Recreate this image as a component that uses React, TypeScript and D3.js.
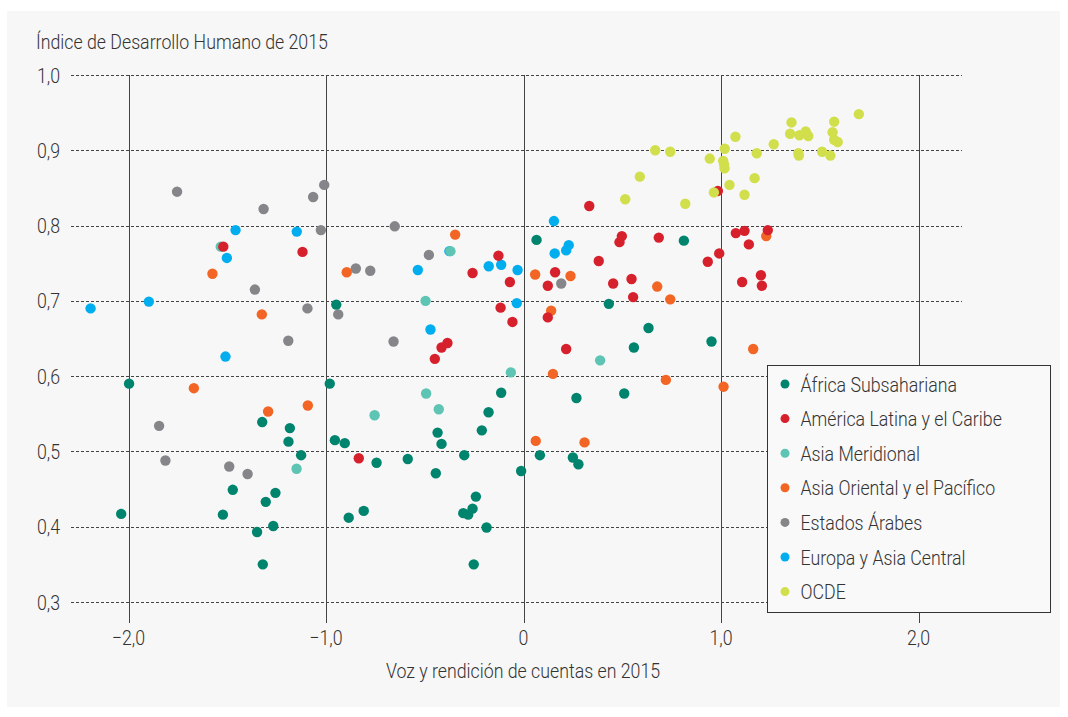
import React from "react";
import * as d3 from "d3";

const regions = [
  "África Subsahariana",
  "América Latina y el Caribe",
  "Asia Meridional",
  "Asia Oriental y el Pacífico",
  "Estados Árabes",
  "Europa y Asia Central",
  "OCDE",
];
const colors = ["#00846e", "#d6212c", "#5ec4b4", "#f26524", "#86868a", "#00aeef", "#d2df4c"];

// [voz y rendición de cuentas, IDH]
const africa: [number, number][] = [
  [-1.997, 0.59], [-2.037, 0.417], [-1.323, 0.539], [-1.183, 0.531], [-1.19, 0.513], [-1.126, 0.495],
  [-1.472, 0.449], [-1.305, 0.433], [-1.256, 0.445], [-1.522, 0.416], [-1.349, 0.393], [-1.267, 0.401],
  [-1.32, 0.35], [-0.981, 0.59], [-0.955, 0.515], [-0.948, 0.695], [-0.905, 0.511], [-0.885, 0.412],
  [-0.809, 0.421], [-0.744, 0.485], [-0.586, 0.49], [-0.444, 0.471], [-0.435, 0.525], [-0.415, 0.51],
  [-0.3, 0.495], [-0.211, 0.528], [-0.177, 0.552], [-0.113, 0.578], [-0.012, 0.474], [0.083, 0.495],
  [-0.241, 0.44], [-0.258, 0.424], [-0.305, 0.418], [-0.28, 0.416], [-0.187, 0.399], [-0.252, 0.35],
  [0.066, 0.781], [0.812, 0.78], [0.432, 0.696], [0.633, 0.664], [0.559, 0.638], [0.952, 0.646],
  [0.268, 0.571], [0.51, 0.577], [0.25, 0.492], [0.278, 0.483],
];
const latam: [number, number][] = [
  [-1.52, 0.772], [-1.119, 0.765], [-0.834, 0.491], [-0.385, 0.644], [-0.415, 0.638], [-0.449, 0.623],
  [-0.258, 0.737], [-0.127, 0.76], [-0.069, 0.725], [-0.116, 0.691], [-0.056, 0.672], [0.123, 0.72],
  [0.123, 0.678], [0.333, 0.826], [0.498, 0.786], [0.486, 0.778], [0.685, 0.784], [0.381, 0.753],
  [0.16, 0.738], [0.454, 0.723], [0.547, 0.729], [0.555, 0.705], [0.933, 0.752], [0.991, 0.763],
  [1.075, 0.79], [1.119, 0.793], [1.237, 0.794], [1.141, 0.775], [1.107, 0.725], [1.202, 0.734],
  [1.207, 0.72], [0.216, 0.636], [0.984, 0.846],
];
const southAsia: [number, number][] = [
  [-1.533, 0.772], [-1.149, 0.477], [-0.37, 0.766], [-0.496, 0.7], [-0.493, 0.577], [-0.064, 0.605],
  [-0.754, 0.548], [-0.429, 0.556], [0.388, 0.621],
];
const eastAsia: [number, number][] = [
  [-1.669, 0.584], [-1.293, 0.553], [-1.092, 0.561], [-1.575, 0.736], [-1.325, 0.682], [-0.346, 0.788],
  [-0.895, 0.738], [0.059, 0.735], [0.14, 0.687], [0.062, 0.514], [0.238, 0.733], [0.677, 0.719],
  [0.743, 0.702], [1.229, 0.786], [1.163, 0.636], [0.149, 0.603], [0.721, 0.595], [1.013, 0.586],
  [0.309, 0.512],
];
const arab: [number, number][] = [
  [-1.845, 0.534], [-1.813, 0.488], [-1.191, 0.647], [-1.49, 0.48], [-1.397, 0.47], [-1.754, 0.845],
  [-1.316, 0.822], [-1.36, 0.715], [-1.009, 0.854], [-1.065, 0.838], [-1.026, 0.794], [-1.094, 0.69],
  [-0.938, 0.682], [-0.652, 0.799], [-0.479, 0.761], [-0.849, 0.743], [-0.776, 0.74], [-0.658, 0.646],
  [0.191, 0.723],
];
const europe: [number, number][] = [
  [-2.192, 0.69], [-1.897, 0.699], [-1.458, 0.794], [-1.502, 0.757], [-1.509, 0.626], [-1.148, 0.792],
  [-0.375, 0.766], [-0.535, 0.741], [-0.176, 0.746], [-0.113, 0.748], [-0.03, 0.741], [-0.034, 0.697],
  [-0.471, 0.662], [0.154, 0.806], [0.158, 0.763], [0.216, 0.767], [0.229, 0.774],
];
const oecd: [number, number][] = [
  [0.515, 0.835], [0.589, 0.865], [0.819, 0.829], [0.667, 0.9], [0.743, 0.898], [0.943, 0.889],
  [1.011, 0.886], [1.016, 0.881], [1.018, 0.876], [0.964, 0.844], [1.043, 0.854], [1.119, 0.841],
  [1.17, 0.863], [1.019, 0.902], [1.073, 0.918], [1.181, 0.896], [1.267, 0.908], [1.35, 0.922],
  [1.357, 0.937], [1.397, 0.92], [1.429, 0.925], [1.442, 0.919], [1.392, 0.896], [1.394, 0.893],
  [1.512, 0.898], [1.554, 0.893], [1.565, 0.924], [1.573, 0.938], [1.573, 0.914], [1.591, 0.911],
  [1.698, 0.948],
];
const series = [africa, latam, southAsia, eastAsia, arab, europe, oecd];

const xTicks = [-2, -1, 0, 1, 2];
const yTicks = [0.3, 0.4, 0.5, 0.6, 0.7, 0.8, 0.9, 1.0];
const yTitle = "Índice de Desarrollo Humano de 2015";
const xTitle = "Voz y rendición de cuentas en 2015";

const FONT = "Roboto, 'Noto Sans', sans-serif";
const SX = 0.845;
const FS = 21;
const fmt = (v: number) => (v === 0 ? "0" : (v < 0 ? "\u2212" : "") + Math.abs(v).toFixed(1).replace(".", ","));

function T({ x, y, anchor = "start", dy, children }: { x: number; y: number; anchor?: string; dy?: string; children: React.ReactNode }) {
  return (
    <text
      transform={`translate(${x},${y}) scale(${SX},1)`}
      textAnchor={anchor}
      dy={dy}
      fontSize={FS}
      fontWeight={300}
      fill="#333"
    >
      {children}
    </text>
  );
}

export default function App() {
  const x = d3.scaleLinear().domain([-2, 2]).range([128.5, 918.5]);
  const y = d3.scaleLinear().domain([0.3, 1.0]).range([602, 75]);
  const order = [4, 5, 2, 3, 1, 0, 6];
  return (
    <svg width={1068} height={717} style={{ position: "absolute", left: 0, top: 0 }} fontFamily={FONT}>
      <rect x={7} y={11} width={1053} height={696} fill="#f7f7f7" />
      <T x={36} y={49}>{yTitle}</T>
      {yTicks.map((t) => (
        <g key={t}>
          <line x1={71} x2={962} y1={Math.round(y(t)) + 0.5} y2={Math.round(y(t)) + 0.5} stroke="#444" strokeDasharray="3,2" />
          <T x={60} y={y(t)} anchor="end" dy="0.36em">{fmt(t)}</T>
        </g>
      ))}
      {xTicks.map((t) => (
        <g key={t}>
          <line x1={Math.round(x(t)) + 0.5} x2={Math.round(x(t)) + 0.5} y1={75} y2={623} stroke="#444" strokeWidth={1} />
          <T x={x(t)} y={645} anchor="middle">{fmt(t)}</T>
        </g>
      ))}
      <T x={523} y={678} anchor="middle">{xTitle}</T>
      {order.map((si) => (
        <g key={si}>
          {series[si].map((d, i) => (
            <circle key={i} cx={x(d[0])} cy={y(d[1])} r={5.2} fill={colors[si]} />
          ))}
        </g>
      ))}
      <g>
        <rect x={767.5} y={365.5} width={283} height={247} fill="#f9f9f9" stroke="#333" strokeWidth={1} />
        {regions.map((r, i) => (
          <g key={r}>
            <circle cx={785} cy={384 + i * 34.6} r={4.5} fill={colors[i]} />
            <T x={800.5} y={384 + i * 34.6} dy="0.36em">{r}</T>
          </g>
        ))}
      </g>
    </svg>
  );
}
